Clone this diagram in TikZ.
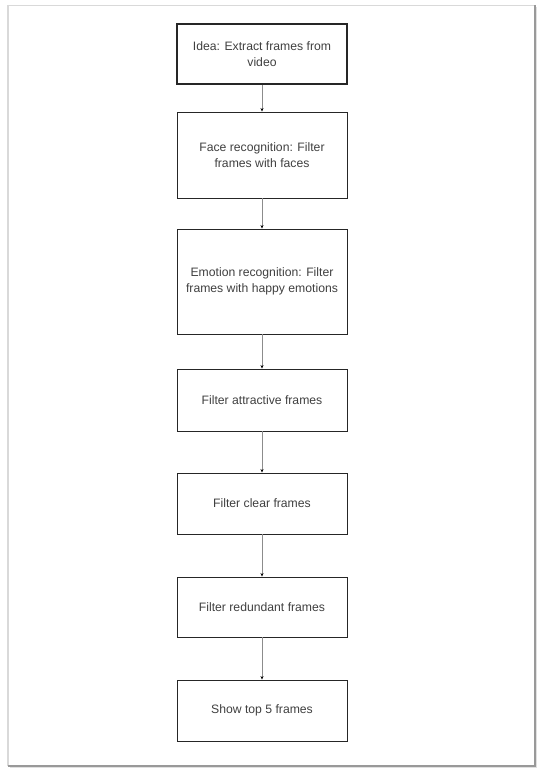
\documentclass[tikz,border=0pt]{standalone}
\usepackage{fontspec}
\setmainfont{Liberation Sans}
\usetikzlibrary{arrows.meta}
\definecolor{txt}{HTML}{404040}
\begin{document}
\begin{tikzpicture}[x=1pt,y=-1pt,
  stepbox/.style={draw=black!85, line width=0.9pt, minimum width=170pt, align=center, text=txt,
    font=\fontsize{12.2}{15.5}\selectfont, inner sep=0pt},
  conn/.style={draw=black!45, line width=0.8pt, -{Stealth[length=3.5pt,width=3pt,black]}}]
\useasboundingbox (0,0) rectangle (544,776);
% page with shadow
\fill[black!12] (10,7) rectangle (537,768);
\fill[white] (8,5) rectangle (535,766);
\draw[black!15, line width=0.8pt] (8,5) -- (535,5);
\draw[black!15, line width=1.2pt] (8,5) -- (8,766);
\draw[black!40, line width=1.2pt] (535,5) -- (535,766) -- (8,766);
% boxes
\node[stepbox, line width=1.6pt, minimum height=60pt] (a) at (262,54) {Idea: Extract frames from\\video};
\node[stepbox, minimum height=86pt] (b) at (262,155) {Face recognition: Filter\\frames with faces};
\node[stepbox, minimum height=105pt] (c) at (262,281.5) {Emotion recognition: Filter\\frames with happy emotions};
\node[stepbox, minimum height=62pt] (d) at (262,400) {Filter attractive frames};
\node[stepbox, minimum height=61pt] (e) at (262,503.5) {Filter clear frames};
\node[stepbox, minimum height=60pt] (f) at (262,607) {Filter redundant frames};
\node[stepbox, minimum height=61pt] (g) at (262,710.5) {Show top 5 frames};
\draw[conn] (a) -- (b);
\draw[conn] (b) -- (c);
\draw[conn] (c) -- (d);
\draw[conn] (d) -- (e);
\draw[conn] (e) -- (f);
\draw[conn] (f) -- (g);
\end{tikzpicture}
\end{document}
